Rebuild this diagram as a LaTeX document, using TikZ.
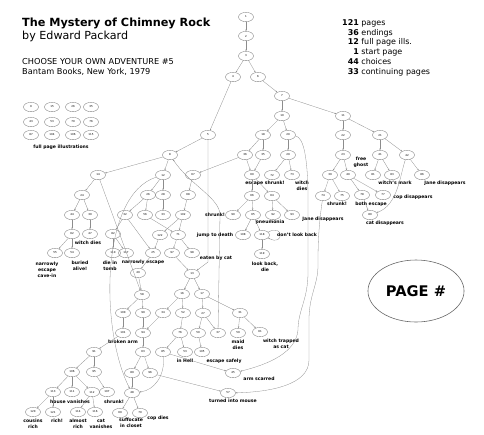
\documentclass[tikz,border=0pt]{standalone}
\usepackage{fontspec}
\setmainfont{DejaVu Sans}
\usetikzlibrary{shapes.geometric, arrows.meta}

\tikzset{
  pg/.style={draw=black!50, ellipse, line width=0.3pt, minimum width=0.45cm,
    minimum height=0.28cm, inner sep=0pt, font=\fontsize{2.3}{2.5}\selectfont},
  fate/.style={font=\bfseries\fontsize{3.9}{5}\selectfont, align=center, inner sep=0pt},
  arr/.style={-{Stealth[length=1.5pt,width=1.2pt]}, draw=black!45, line width=0.25pt},
}

\begin{document}
\begin{tikzpicture}[x=0.03cm, y=-0.03cm]
        \useasboundingbox (0,0) rectangle (484,434);
        % heading
        \node[anchor=base west, inner sep=0pt, font=\bfseries\fontsize{9.6}{11}\selectfont] (title) at (22,26) {The Mystery of Chimney Rock};
        \node[anchor=base west, inner sep=0pt, font=\fontsize{9.5}{11}\selectfont] (author) at (22,39.5) {by Edward Packard};
        \node[anchor=base west, inner sep=0pt, font=\fontsize{7}{8}\selectfont] (series) at (22,64) {CHOOSE YOUR OWN ADVENTURE \#5};
        \node[anchor=base west, inner sep=0pt, font=\fontsize{7}{8}\selectfont] (publisher) at (22,74) {Bantam Books, New York, 1979};
        % counts
        \node[anchor=base west, inner sep=0pt, font=\fontsize{6.8}{8.3}\selectfont] (stats) at (342,25.5) {%
          \begin{tabular}[t]{@{}r@{ }l@{}}
          \textbf{121} & pages\\
          \textbf{36} & endings\\
          \textbf{12} & full page ills.\\
          \textbf{1} & start page\\
          \textbf{44} & choices\\
          \textbf{33} & continuing pages
          \end{tabular}};
        % legend
        \node[draw=black!60, ellipse, line width=0.5pt, minimum width=2.64cm, minimum height=1.86cm,
          font=\bfseries\fontsize{12.5}{14}\selectfont] (legend) at (416,291) {PAGE \#};
        % full page illustrations
        \node[pg] (f1)  at (31,107) {9};
        \node[pg] (f2)  at (52,107) {15};
        \node[pg] (f3)  at (73,107) {26};
        \node[pg] (f4)  at (91,107) {35};
        \node[pg] (f5)  at (31,122) {43};
        \node[pg] (f6)  at (52,122) {53};
        \node[pg] (f7)  at (73,122) {70};
        \node[pg] (f8)  at (91,122) {76};
        \node[pg] (f9)  at (31,135) {87};
        \node[pg] (f10) at (52,135) {104};
        \node[pg] (f11) at (73,135) {106};
        \node[pg] (f12) at (91,135) {115};
        \node[fate] (fcap) at (61,147) {full page illustrations};
        % pages
        \node[pg] (p1)   at (246,17)  {1};
        \node[pg] (p2)   at (246,36)  {2};
        \node[pg] (p3)   at (246,56)  {3};
        \node[pg] (p4)   at (233,77)  {4};
        \node[pg] (p6)   at (258,77)  {6};
        \node[pg] (p7)   at (282,96)  {7};
        \node[pg] (p10)  at (282,116) {10};
        \node[pg] (p11)  at (343,116) {11};
        \node[pg] (p5)   at (208,135) {5};
        \node[pg] (p18)  at (263,135) {18};
        \node[pg] (p20)  at (288,135) {20};
        \node[pg] (p22)  at (343,135) {22};
        \node[pg] (p21)  at (380,135) {21};
        \node[pg] (p8)   at (170,155) {8};
        \node[pg] (p36)  at (245,155) {36};
        \node[pg] (p35)  at (263,155) {35};
        \node[pg] (p29)  at (288,155) {29};
        \node[pg] (p23)  at (343,155) {23};
        \node[pg] (p41)  at (380,155) {41};
        \node[pg] (p42)  at (407,155) {42};
        \node[pg] (p14)  at (98,175)  {14};
        \node[pg] (p12)  at (163,175) {12};
        \node[pg] (p67)  at (193,175) {67};
        \node[pg] (p60)  at (252,175) {60};
        \node[pg] (p72)  at (272,175) {72};
        \node[pg] (p73)  at (292,175) {73};
        \node[pg] (p39)  at (330,175) {39};
        \node[pg] (p40)  at (348,175) {40};
        \node[pg] (p81)  at (373,175) {81};
        \node[pg] (p83)  at (392,175) {83};
        \node[pg] (p86)  at (422,175) {86};
        \node[pg] (p24)  at (82,195)  {24};
        \node[pg] (p26)  at (148,195) {26};
        \node[pg] (p28)  at (163,195) {28};
        \node[pg] (p68)  at (188,195) {68};
        \node[pg] (p66)  at (252,196) {66};
        \node[pg] (p64)  at (272,196) {64};
        \node[pg] (p74)  at (323,196) {74};
        \node[pg] (p75)  at (342,196) {75};
        \node[pg] (p78)  at (362,195) {78};
        \node[pg] (p77)  at (383,195) {77};
        \node[pg] (p44)  at (72,215)  {44};
        \node[pg] (p30)  at (90,215)  {30};
        \node[pg] (p32)  at (125,215) {32};
        \node[pg] (p56)  at (145,215) {56};
        \node[pg] (p33)  at (163,215) {33};
        \node[pg] (p102) at (183,215) {102};
        \node[pg] (p90)  at (233,215) {90};
        \node[pg] (p65)  at (253,215) {65};
        \node[pg] (p92)  at (273,215) {92};
        \node[pg] (p93)  at (292,215) {93};
        \node[pg] (p80)  at (370,215) {80};
        \node[pg] (p62)  at (72,234)  {62};
        \node[pg] (p47)  at (90,234)  {47};
        \node[pg] (p82)  at (113,234) {82};
        \node[pg] (p122) at (160,235) {122};
        \node[pg] (p71)  at (178,235) {71};
        \node[pg] (p108) at (243,235) {108};
        \node[pg] (p118) at (262,235) {118};
        \node[pg] (p55)  at (55,253)  {55};
        \node[pg] (p54)  at (72,253)  {54};
        \node[pg] (p110) at (113,253) {110};
        \node[pg] (p117) at (126,253) {117};
        \node[pg] (p25)  at (153,253) {25};
        \node[pg] (p97)  at (172,253) {97};
        \node[pg] (p98)  at (192,253) {98};
        \node[pg] (p119) at (262,254) {119};
        \node[pg] (p49)  at (138,273) {49};
        \node[pg] (p13)  at (192,274) {13};
        \node[pg] (p58)  at (142,295) {58};
        \node[pg] (p16)  at (182,294) {16};
        \node[pg] (p17)  at (202,294) {17};
        \node[pg] (p100) at (123,313) {100};
        \node[pg] (p99)  at (143,313) {99};
        \node[pg] (p34)  at (163,313) {34};
        \node[pg] (p52)  at (183,313) {52};
        \node[pg] (p27)  at (203,313) {27};
        \node[pg] (p31)  at (240,313) {31};
        \node[pg] (p101) at (123,333) {101};
        \node[pg] (p94)  at (143,333) {94};
        \node[pg] (p76)  at (180,333) {76};
        \node[pg] (p50)  at (198,333) {50};
        \node[pg] (p37)  at (218,333) {37};
        \node[pg] (p59)  at (238,333) {59};
        \node[pg] (p61)  at (260,332) {61};
        \node[pg] (p91)  at (94,352)  {91};
        \node[pg] (p63)  at (143,352) {63};
        \node[pg] (p85)  at (163,352) {85};
        \node[pg] (p53)  at (185,352) {53};
        \node[pg] (p105) at (202,352) {105};
        \node[pg] (p106) at (72,372)  {106};
        \node[pg] (p95)  at (94,372)  {95};
        \node[pg] (p89)  at (132,373) {89};
        \node[pg] (p96)  at (150,373) {96};
        \node[pg] (p45)  at (233,373) {45};
        \node[pg] (p113) at (53,392)  {113};
        \node[pg] (p111) at (72,392)  {111};
        \node[pg] (p112) at (92,392)  {112};
        \node[pg] (p107) at (107,392) {107};
        \node[pg] (p48)  at (132,393) {48};
        \node[pg] (p57)  at (228,393) {57};
        \node[pg] (p120) at (33,412)  {120};
        \node[pg] (p121) at (53,412)  {121};
        \node[pg] (p114) at (78,412)  {114};
        \node[pg] (p116) at (95,412)  {116};
        \node[pg] (p69)  at (120,413) {69};
        \node[pg] (p70)  at (140,413) {70};
        % endings
        \node[fate] (e47)  at (88,243)  {witch dies};
        \node[fate] (e55)  at (47,270)  {narrowly\\escape\\cave-in};
        \node[fate] (e54)  at (80,266)  {buried\\alive!};
        \node[fate] (e110) at (110,266) {die in\\tomb};
        \node[fate] (e117) at (143,262) {narrowly escape};
        \node[fate] (e90)  at (215,215) {shrunk!};
        \node[fate] (e108) at (215,235) {jump to death};
        \node[fate] (e98)  at (216,258) {eaten by cat};
        \node[fate] (e72)  at (265,183) {escape shrunk!};
        \node[fate] (e73)  at (302,186) {witch\\dies};
        \node[fate] (e92)  at (270,222) {pneumonia};
        \node[fate] (e118) at (297,235) {don't look back};
        \node[fate] (e119) at (265,267) {look back,\\die};
        \node[fate] (e93)  at (323,219) {Jane disappears};
        \node[fate] (e75)  at (337,204) {shrunk!};
        \node[fate] (e40)  at (361,162) {free\\ghost};
        \node[fate] (e78)  at (371,204) {both escape};
        \node[fate] (e80)  at (385,223) {cat disappears};
        \node[fate] (e77)  at (413,197) {cop disappears};
        \node[fate] (e83)  at (395,183) {witch's mark};
        \node[fate] (e86)  at (445,183) {Jane disappears};
        \node[fate] (e101) at (123,342) {broken arm};
        \node[fate] (e111) at (70,402)  {house vanishes};
        \node[fate] (e107) at (114,402) {shrunk!};
        \node[fate] (e120) at (33,424)  {cousins\\rich};
        \node[fate] (e121) at (57,421)  {rich!};
        \node[fate] (e114) at (78,424)  {almost\\rich};
        \node[fate] (e116) at (101,424) {cat\\vanishes};
        \node[fate] (e69)  at (131,423) {suffocate\\in closet};
        \node[fate] (e70)  at (158,418) {cop dies};
        \node[fate] (e59)  at (238,345) {maid\\dies};
        \node[fate] (e61)  at (281,344) {witch trapped\\as cat};
        \node[fate] (e53)  at (185,361) {in Hell};
        \node[fate] (e105) at (224,361) {escape safely};
        \node[fate] (e45)  at (259,379) {arm scarred};
        \node[fate] (e57)  at (233,401) {turned into mouse};
        % arrows
        \draw[arr] (p1)   -- (p2);
        \draw[arr] (p2)   -- (p3);
        \draw[arr] (p3)   -- (p4);
        \draw[arr] (p3)   -- (p6);
        \draw[arr] (p4)   -- (p5);
        \draw[arr] (p6)   -- (p7);
        \draw[arr] (p7)   -- (p10);
        \draw[arr] (p7)   -- (p11);
        \draw[arr] (p10)  -- (p18);
        \draw[arr] (p10)  -- (p20);
        \draw[arr] (p11)  -- (p22);
        \draw[arr] (p11)  -- (p21);
        \draw[arr] (p5)   -- (p8);
        \draw[arr] (p5)   -- (208,262) -- (p13);
        \draw[arr] (p18)  -- (p36);
        \draw[arr] (p18)  -- (p35);
        \draw[arr] (p20)  -- (p29);
        \draw[arr] (p20)  .. controls (304,137) and (308,160) .. (308,200) -- (308,272)
                          .. controls (308,300) and (298,310) .. (298,330)
                          .. controls (296,352) and (270,364) .. (p45);
        \draw[arr] (p22)  -- (p23);
        \draw[arr] (p21)  -- (p41);
        \draw[arr] (p21)  -- (p42);
        \draw[arr] (p8)   -- (p14);
        \draw[arr] (p8)   -- (p12);
        \draw[arr] (p37)  -- (220,215) .. controls (220,198) and (190,185) .. (p8);
        \draw[arr] (p36)  -- (p67);
        \draw[arr] (p36)  -- (p60);
        \draw[arr] (p35)  -- (p60);
        \draw[arr] (p29)  -- (p72);
        \draw[arr] (p29)  -- (p73);
        \draw[arr] (p23)  -- (p39);
        \draw[arr] (p23)  -- (p40);
        \draw[arr] (p41)  -- (p81);
        \draw[arr] (p41)  -- (p83);
        \draw[arr] (p42)  -- (p86);
        \draw[arr] (p42)  .. controls (400,175) and (398,205) .. (p80);
        \draw[arr] (p14)  -- (p24);
        \draw[arr] (p14)  -- (p58);
        \draw[arr] (p12)  -- (p26);
        \draw[arr] (p12)  -- (p28);
        \draw[arr] (p12)  .. controls (100,195) and (100,330) .. (p48);
        \draw[arr] (p67)  -- (p68);
        \draw[arr] (p60)  -- (p66);
        \draw[arr] (p60)  -- (p64);
        \draw[arr] (p39)  -- (p74);
        \draw[arr] (p39)  -- (p75);
        \draw[arr] (p40)  -- (p78);
        \draw[arr] (p40)  -- (p77);
        \draw[arr] (p74)  .. controls (318,230) and (318,250) .. (318,265)
                          .. controls (318,285) and (309,295) .. (309,320) -- (309,360)
                          .. controls (309,385) and (270,392) .. (p57);
        \draw[arr] (p78)  -- (p80);
        \draw[arr] (p24)  -- (p44);
        \draw[arr] (p24)  -- (p30);
        \draw[arr] (p26)  -- (p32);
        \draw[arr] (p26)  -- (p56);
        \draw[arr] (p28)  -- (p33);
        \draw[arr] (p68)  -- (p102);
        \draw[arr] (p66)  -- (p90);
        \draw[arr] (p66)  -- (p65);
        \draw[arr] (p64)  -- (p92);
        \draw[arr] (p64)  -- (p93);
        \draw[arr] (p44)  -- (p62);
        \draw[arr] (p30)  -- (p47);
        \draw[arr] (p32)  -- (p82);
        \draw[arr] (p32)  -- (p25);
        \draw[arr] (p56)  -- (p71);
        \draw[arr] (p102) -- (p122);
        \draw[arr] (p102) -- (p71);
        \draw[arr] (p65)  -- (p108);
        \draw[arr] (p65)  -- (p118);
        \draw[arr] (p118.25) .. controls +(16,-9) and +(16,9) .. (p118.-25);
        \draw[arr] (p118) -- (p119);
        \draw[arr] (p62)  -- (p55);
        \draw[arr] (p62)  -- (p54);
        \draw[arr] (p82)  -- (p110);
        \draw[arr] (p82)  -- (p117);
        \draw[arr] (p122) -- (p25);
        \draw[arr] (p71)  -- (p97);
        \draw[arr] (p71)  -- (p98);
        \draw[arr] (p25)  -- (p49);
        \draw[arr] (p97)  -- (p13);
        \draw[arr] (p49)  -- (p58);
        \draw[arr] (p13)  -- (p16);
        \draw[arr] (p13)  -- (p17);
        \draw[arr] (p58)  -- (p100);
        \draw[arr] (p58)  -- (p99);
        \draw[arr] (p16)  -- (p34);
        \draw[arr] (p16)  -- (p52);
        \draw[arr] (p17)  -- (p27);
        \draw[arr] (p17)  -- (p31);
        \draw[arr] (p100) -- (p101);
        \draw[arr] (p99)  -- (p94);
        \draw[arr] (p34)  -- (p94);
        \draw[arr] (p52)  -- (p76);
        \draw[arr] (p27)  -- (p50);
        \draw[arr] (p27)  -- (p37);
        \draw[arr] (p31)  -- (p59);
        \draw[arr] (p31)  -- (p61);
        \draw[arr] (p101) -- (p91);
        \draw[arr] (p94)  -- (p63);
        \draw[arr] (p76)  -- (p85);
        \draw[arr] (p76)  -- (p53);
        \draw[arr] (p50)  -- (p105);
        \draw[arr] (p91)  -- (p106);
        \draw[arr] (p91)  -- (p95);
        \draw[arr] (p63)  -- (p89);
        \draw[arr] (p63)  -- (p96);
        \draw[arr] (p85)  -- (p45);
        \draw[arr] (p85)  .. controls (165,375) and (155,390) .. (p48);
        \draw[arr] (p106) -- (p113);
        \draw[arr] (p106) -- (p111);
        \draw[arr] (p106) -- (p112);
        \draw[arr] (p95)  -- (p107);
        \draw[arr] (p89)  -- (p48);
        \draw[arr] (p96)  -- (p57);
        \draw[arr] (p113) -- (p120);
        \draw[arr] (p113) -- (p121);
        \draw[arr] (p112) -- (p114);
        \draw[arr] (p112) -- (p116);
        \draw[arr] (p48)  -- (p69);
        \draw[arr] (p48)  -- (p70);
\end{tikzpicture}
\end{document}
